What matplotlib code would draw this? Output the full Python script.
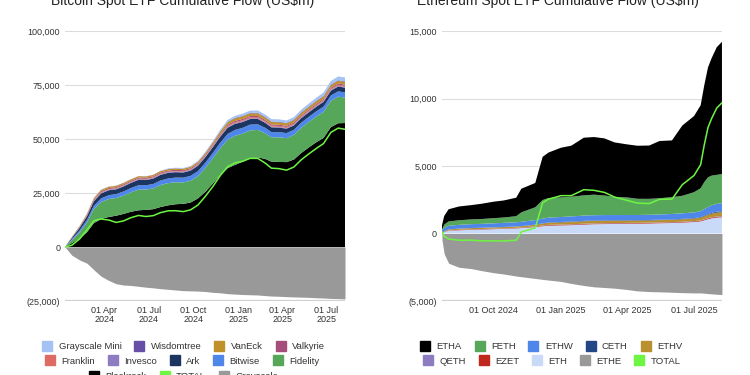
import pandas as pd
import matplotlib
matplotlib.use('Agg')
import matplotlib.pyplot as plt
from matplotlib.lines import Line2D
from matplotlib.ticker import FuncFormatter

plt.rcParams['font.family'] = ['Liberation Sans', 'DejaVu Sans']

# ---- Bitcoin spot ETF cumulative flows (US$m) ----
btc_dates = pd.to_datetime([
    '2024-01-11', '2024-01-25', '2024-02-10', '2024-02-25', '2024-03-10', '2024-03-25',
    '2024-04-10', '2024-04-25', '2024-05-10', '2024-05-25', '2024-06-10', '2024-06-25',
    '2024-07-10', '2024-07-25', '2024-08-10', '2024-08-25', '2024-09-10', '2024-09-25',
    '2024-10-10', '2024-10-25', '2024-11-10', '2024-11-25', '2024-12-10', '2024-12-25',
    '2025-01-10', '2025-01-25', '2025-02-10', '2025-02-25', '2025-03-10', '2025-03-25',
    '2025-04-10', '2025-04-25', '2025-05-10', '2025-05-25', '2025-06-10', '2025-06-25',
    '2025-07-10', '2025-07-25', '2025-08-08'])
blackrock = [0, 1800, 4000, 6800, 11000, 13000, 13900, 14500, 15300, 16300, 17000, 17200,
             17500, 18500, 19300, 19800, 20000, 20600, 22500, 25500, 29500, 33500, 36500, 38000,
             39500, 41000, 41500, 40800, 39500, 39400, 39300, 40500, 43500, 46000, 48500, 50500,
             55500, 57300, 57400]
fidelity = [0, 1300, 2800, 4500, 6500, 7800, 8300, 8200, 8500, 9000, 9600, 9400,
            9600, 10200, 10300, 10200, 9900, 10100, 10300, 11100, 11700, 12300, 13200, 13500,
            13000, 13000, 12700, 11900, 11300, 11400, 11100, 11400, 11700, 11800, 11900, 12100,
            12200, 12300, 11800]
bitwise = [0, 500, 900, 1200, 1500, 1700, 1800, 1800, 1900, 1950, 2000, 2000,
           2050, 2100, 2150, 2150, 2200, 2250, 2300, 2350, 2450, 2550, 2650, 2700,
           2700, 2650, 2600, 2500, 2400, 2400, 2350, 2350, 2350, 2350, 2400, 2400,
           2450, 2450, 2400]
ark = [0, 600, 1200, 1700, 2100, 2300, 2300, 2200, 2300, 2400, 2500, 2400,
       2500, 2600, 2600, 2500, 2400, 2450, 2500, 2600, 2700, 2800, 2900, 2800,
       2700, 2600, 2500, 2300, 2200, 2100, 2050, 2050, 2100, 2100, 2150, 2200,
       2250, 2250, 2200]
invesco = [0, 100, 200, 250, 300, 300, 300, 300, 300, 300, 300, 300,
           300, 300, 300, 300, 300, 300, 300, 300, 300, 320, 340, 350,
           350, 350, 350, 340, 330, 330, 330, 330, 330, 330, 340, 340,
           350, 350, 350]
franklin = [0, 50, 100, 150, 200, 250, 250, 250, 250, 250, 270, 270,
            280, 300, 300, 300, 300, 300, 310, 330, 360, 400, 430, 450,
            460, 470, 470, 460, 450, 450, 440, 440, 440, 450, 450, 460,
            470, 480, 480]
valkyrie = [0, 100, 200, 300, 400, 450, 450, 450, 450, 450, 450, 450,
            460, 470, 470, 470, 470, 470, 480, 500, 520, 550, 570, 580,
            580, 580, 570, 560, 550, 550, 540, 540, 540, 550, 550, 560,
            560, 560, 560]
vaneck = [0, 150, 300, 450, 550, 600, 600, 600, 600, 620, 620, 620,
          630, 640, 640, 640, 640, 650, 700, 780, 900, 1050, 1150, 1200,
          1200, 1200, 1180, 1150, 1120, 1120, 1110, 1120, 1130, 1150, 1170, 1180,
          1200, 1220, 1220]
wisdomtree = [0, 20, 40, 60, 80, 80, 80, 80, 80, 80, 80, 80,
              90, 100, 100, 100, 100, 100, 110, 120, 140, 170, 200, 220,
              230, 240, 250, 250, 250, 250, 250, 250, 260, 270, 270, 280,
              280, 290, 290]
grayscale_mini = [0, 0, 0, 0, 0, 0, 0, 0, 0, 0, 0, 0,
                  0, 0, 200, 250, 280, 300, 350, 420, 550, 700, 850, 950,
                  1000, 1050, 1100, 1100, 1100, 1100, 1120, 1150, 1200, 1300, 1400, 1500,
                  1600, 1750, 1800]
grayscale = [0, -3800, -6000, -7500, -10500, -13500, -15500, -17000, -17600, -17800, -18200, -18600,
             -18900, -19300, -19600, -19900, -20200, -20300, -20400, -20600, -21000, -21200, -21600, -21800,
             -22000, -22100, -22200, -22500, -22700, -22800, -23000, -23100, -23200, -23300, -23500, -23600,
             -23800, -23900, -24000]

btc_names = ['Grayscale Mini', 'Wisdomtree', 'VanEck', 'Valkyrie', 'Franklin', 'Invesco',
             'Ark', 'Bitwise', 'Fidelity', 'Blackrock']
btc_series = [grayscale_mini, wisdomtree, vaneck, valkyrie, franklin, invesco,
              ark, bitwise, fidelity, blackrock]
btc_colors = ['#a4c2f4', '#674ea7', '#c0902a', '#a64d79', '#dd6b63', '#8e7cc3',
              '#1c3560', '#4f86ea', '#57a75a', '#000000']

# ---- Ethereum spot ETF cumulative flows (US$m) ----
eth_dates = pd.to_datetime([
    '2024-07-23', '2024-07-26', '2024-08-01', '2024-08-15', '2024-09-01', '2024-09-15',
    '2024-10-01', '2024-10-15', '2024-11-01', '2024-11-08', '2024-11-27', '2024-12-07',
    '2024-12-15', '2025-01-01', '2025-01-15', '2025-02-01', '2025-02-15', '2025-03-01',
    '2025-03-15', '2025-04-01', '2025-04-15', '2025-05-01', '2025-05-15', '2025-06-01',
    '2025-06-15', '2025-07-01', '2025-07-10', '2025-07-15', '2025-07-20', '2025-07-25',
    '2025-08-01', '2025-08-08'])
etha = [315, 640, 900, 1020, 1060, 1130, 1220, 1260, 1370, 1750, 1800, 3200, 3370, 3680, 3780, 4270,
        4270, 4230, 4030, 3930, 3930, 3950, 4240, 4200, 5200, 5640, 6140, 7190, 8140, 8710, 9460, 9800]
feth = [70, 250, 320, 340, 350, 360, 380, 400, 450, 700, 950, 1380, 1450, 1450, 1460, 1500,
        1520, 1450, 1350, 1300, 1200, 1180, 1200, 1250, 1300, 1500, 1700, 2000, 2200, 2200, 2150, 2150]
ethw = [200, 250, 270, 280, 290, 290, 300, 300, 310, 315, 335, 350, 360, 370, 380, 390,
        390, 390, 385, 385, 380, 385, 390, 400, 410, 420, 440, 480, 520, 560, 580, 600]
ceth = [0, 2, 5, 6, 8, 8, 8, 10, 10, 12, 18, 22, 25, 30, 30, 32,
        32, 32, 32, 32, 32, 32, 32, 32, 35, 40, 45, 50, 55, 60, 65, 70]
ethv = [10, 40, 70, 80, 85, 85, 85, 85, 90, 95, 110, 130, 150, 160, 170, 180,
        180, 180, 175, 170, 165, 165, 165, 170, 175, 180, 200, 220, 240, 260, 280, 290]
qeth = [0, 5, 10, 10, 12, 12, 12, 12, 12, 13, 15, 17, 18, 20, 20, 20,
        20, 20, 20, 20, 20, 20, 20, 20, 20, 20, 22, 24, 26, 28, 30, 30]
ezet = [5, 10, 20, 25, 30, 30, 30, 30, 30, 32, 38, 42, 45, 45, 45, 45,
        45, 45, 45, 45, 45, 45, 45, 45, 45, 50, 50, 55, 60, 60, 60, 60]
eth_mini = [0, 100, 200, 240, 270, 290, 320, 350, 380, 400, 480, 540, 580, 600, 620, 660,
            690, 700, 710, 720, 730, 740, 760, 780, 810, 850, 900, 980, 1060, 1120, 1180, 1200]
ethe = [-480, -1500, -2200, -2500, -2600, -2750, -2900, -3000, -3150, -3200, -3330, -3400,
        -3450, -3550, -3700, -3850, -3950, -4000, -4050, -4150, -4250, -4300, -4320, -4350,
        -4380, -4400, -4400, -4420, -4450, -4470, -4500, -4520]

eth_names = ['ETHA', 'FETH', 'ETHW', 'CETH', 'ETHV', 'QETH', 'EZET', 'ETH']
eth_series = [etha, feth, ethw, ceth, ethv, qeth, ezet, eth_mini]
eth_colors = ['#000000', '#57a75a', '#4f86ea', '#234786', '#b8902f', '#8e7cc3', '#c0281e', '#c9daf8']

total_color = '#6ef542'
gray_color = '#999999'


def fmt(v, pos):
    if v < 0:
        return f'({abs(v):,.0f})'
    return f'{v:,.0f}'


def style_axes(ax, ylim, yticks):
    ax.set_ylim(*ylim)
    ax.set_yticks(yticks)
    ax.yaxis.set_major_formatter(FuncFormatter(fmt))
    ax.set_axisbelow(True)
    ax.grid(axis='y', color='#dcdcdc', linewidth=0.8)
    ax.grid(axis='x', visible=False)
    for s in ax.spines.values():
        s.set_visible(False)
    ax.axhline(ylim[0], color='#d0d0d0', linewidth=1.6, zorder=0.5)
    ax.tick_params(length=0, labelsize=6.5, colors='#333333', pad=3.5)


fig = plt.figure(figsize=(7.5, 3.75), dpi=100)

# left chart
ax1 = fig.add_axes([0.0867, 0.1973, 0.3733, 0.72])
ax1.stackplot(btc_dates, btc_series[::-1], colors=btc_colors[::-1], linewidth=0)
ax1.fill_between(btc_dates, grayscale, 0, color=gray_color, linewidth=0)
btc_total = [sum(v) for v in zip(*btc_series, grayscale)]
ax1.plot(btc_dates, btc_total, color=total_color, linewidth=1.1, zorder=5)
ax1.set_xlim(btc_dates[0], btc_dates[-1])
style_axes(ax1, (-25000, 100000), [-25000, 0, 25000, 50000, 75000, 100000])
btc_ticks = pd.to_datetime(['2024-04-01', '2024-07-01', '2024-10-01', '2025-01-01', '2025-04-01', '2025-07-01'])
ax1.set_xticks(btc_ticks)
ax1.set_xticklabels([d.strftime('%d %b\n%Y') for d in btc_ticks], linespacing=1.0)

# right chart
ax2 = fig.add_axes([0.5893, 0.1973, 0.3733, 0.72])
ax2.stackplot(eth_dates, eth_series[::-1], colors=eth_colors[::-1], linewidth=0)
ax2.fill_between(eth_dates, ethe, 0, color=gray_color, linewidth=0)
eth_total = [sum(v) for v in zip(*eth_series, ethe)]
ax2.plot(eth_dates, eth_total, color=total_color, linewidth=1.1, zorder=5)
ax2.set_xlim(eth_dates[0], eth_dates[-1])
style_axes(ax2, (-5000, 15000), [-5000, 0, 5000, 10000, 15000])
eth_ticks = pd.to_datetime(['2024-10-01', '2025-01-01', '2025-04-01', '2025-07-01'])
ax2.set_xticks(eth_ticks)
ax2.set_xticklabels([d.strftime('%d %b %Y') for d in eth_ticks])

# titles (cut at the top edge as in the source)
fig.text(0.243, 0.987, 'Bitcoin Spot ETF Cumulative Flow (US$m)', ha='center', va='baseline',
         fontsize=10, color='#222222')
fig.text(0.744, 0.987, 'Ethereum Spot ETF Cumulative Flow (US$m)', ha='center', va='baseline',
         fontsize=10, color='#222222')


def legend_row(items, x, y):
    handles = [Line2D([], [], marker='s', linestyle='none', markersize=7,
                      markerfacecolor=c, markeredgecolor=c) for _, c in items]
    fig.legend(handles, [n for n, _ in items], loc='center', bbox_to_anchor=(x, y),
               ncol=len(items), frameon=False, fontsize=6.8, handlelength=1.0,
               handletextpad=0.7, columnspacing=1.4, borderpad=0, borderaxespad=0,
               labelcolor='#333333')


btc_leg = list(zip(btc_names, btc_colors)) + [('TOTAL', total_color), ('Grayscale', gray_color)]
legend_row(btc_leg[0:4], 0.245, 0.0747)
legend_row(btc_leg[4:9], 0.243, 0.0373)
legend_row(btc_leg[9:12], 0.245, -0.004)

eth_leg = list(zip(eth_names, eth_colors)) + [('ETHE', gray_color), ('TOTAL', total_color)]
legend_row(eth_leg[0:5], 0.735, 0.0747)
legend_row(eth_leg[5:10], 0.736, 0.0373)

fig.savefig('out.png', dpi=100)
